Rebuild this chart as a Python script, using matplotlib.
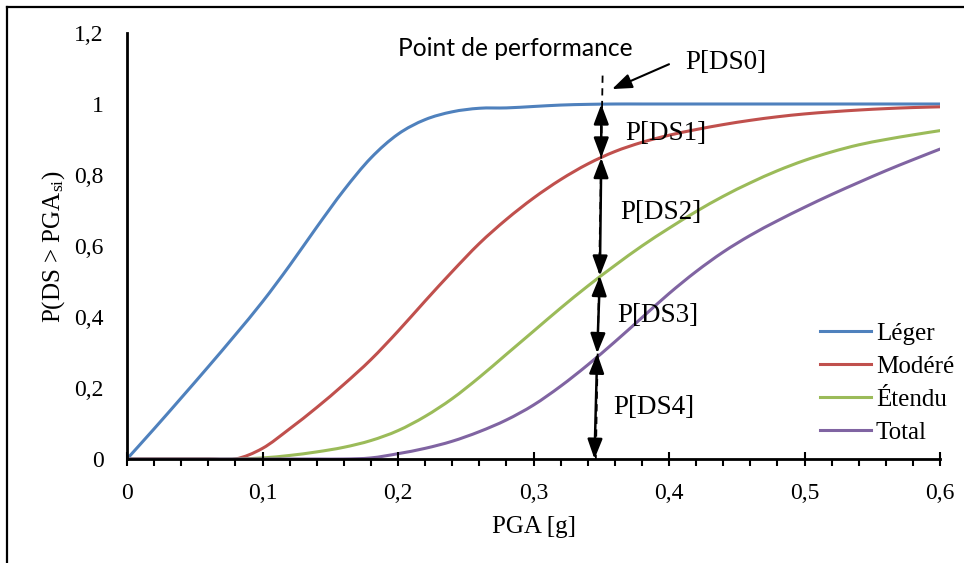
import numpy as np
import matplotlib
matplotlib.use('Agg')
import matplotlib.pyplot as plt
from matplotlib.lines import Line2D
from matplotlib.path import Path
from matplotlib.patches import PathPatch
from matplotlib.ticker import FuncFormatter, MultipleLocator

# PGA [g] - lecture sur la figure
pga = [0.00, 0.02, 0.04, 0.06, 0.08, 0.10, 0.12, 0.14, 0.16, 0.18,
       0.20, 0.22, 0.24, 0.26, 0.28, 0.30, 0.32, 0.34, 0.36, 0.38,
       0.40, 0.42, 0.44, 0.46, 0.48, 0.50, 0.52, 0.54, 0.56, 0.58, 0.60]

leger = [0.000, 0.085, 0.172, 0.260, 0.350, 0.443, 0.545, 0.653, 0.757, 0.848,
         0.915, 0.956, 0.978, 0.988, 0.989, 0.993, 0.997, 0.999, 1.000, 1.000,
         1.000, 1.000, 1.000, 1.000, 1.000, 1.000, 1.000, 1.000, 1.000, 1.000, 1.000]

modere = [0.000, 0.000, 0.000, 0.000, 0.000, 0.030, 0.085, 0.145, 0.210, 0.280,
          0.360, 0.445, 0.528, 0.607, 0.675, 0.735, 0.787, 0.831, 0.866, 0.892,
          0.912, 0.928, 0.942, 0.954, 0.964, 0.972, 0.978, 0.983, 0.987, 0.990, 0.992]

etendu = [0.000, 0.000, 0.000, 0.000, 0.000, 0.003, 0.010, 0.020, 0.033, 0.052,
          0.080, 0.120, 0.170, 0.230, 0.295, 0.360, 0.425, 0.487, 0.545, 0.600,
          0.650, 0.697, 0.740, 0.778, 0.812, 0.841, 0.865, 0.885, 0.900, 0.913, 0.925]

total = [0.000, 0.000, 0.000, 0.000, 0.000, 0.000, 0.000, 0.000, 0.000, 0.003,
         0.015, 0.030, 0.050, 0.077, 0.110, 0.152, 0.205, 0.265, 0.330, 0.398,
         0.466, 0.528, 0.583, 0.630, 0.671, 0.709, 0.745, 0.779, 0.812, 0.843, 0.873]

labels = ['Léger', 'Modéré', 'Étendu', 'Total']
colors = ['#4F81BD', '#C0504D', '#9BBB59', '#8064A2']
pga_perf = 0.35

plt.rcParams['font.family'] = 'serif'
plt.rcParams['font.serif'] = ['Liberation Serif', 'DejaVu Serif']
plt.rcParams['mathtext.fontset'] = 'stix'


def courbe_lissee(x, y):
    # ligne lissée façon Excel : Bézier cubiques passant par les points
    x = np.asarray(x, float)
    y = np.asarray(y, float)
    pts = np.column_stack([x, y])
    ext = np.vstack([pts[0], pts, pts[-1]])
    verts = [pts[0]]
    codes = [Path.MOVETO]
    for i in range(len(pts) - 1):
        p0, p1, p2, p3 = ext[i], ext[i + 1], ext[i + 2], ext[i + 3]
        verts += [p1 + (p2 - p0) / 6, p2 - (p3 - p1) / 6, p2]
        codes += [Path.CURVE4] * 3
    return Path(verts, codes)


fig = plt.figure(figsize=(9.64, 5.63), dpi=100)
ax = fig.add_axes([127/964, 1 - 459/563, 813/964, 426/563])

handles = []
for serie, lab, col in zip([leger, modere, etendu, total], labels, colors):
    ax.add_patch(PathPatch(courbe_lissee(pga, serie), fill=False, edgecolor=col,
                           lw=2.2, capstyle='round', joinstyle='round'))
    handles.append(Line2D([], [], color=col, lw=2.2, label=lab))

ax.set_xlim(0, 0.6)
ax.set_ylim(0, 1.2)


def virgule(v, pos):
    s = ('%.1f' % v)
    if s.endswith('.0'):
        s = s[:-2]
    return s.replace('.', ',')


ax.xaxis.set_major_locator(MultipleLocator(0.1))
ax.xaxis.set_minor_locator(MultipleLocator(0.02))
ax.yaxis.set_major_locator(MultipleLocator(0.2))
ax.xaxis.set_major_formatter(FuncFormatter(virgule))
ax.yaxis.set_major_formatter(FuncFormatter(virgule))
ax.tick_params(axis='x', which='major', direction='inout', length=10, width=1.5,
               labelsize=17, pad=12)
ax.tick_params(axis='x', which='minor', direction='out', length=5, width=1.5)
ax.tick_params(axis='y', which='major', length=0, labelsize=17, pad=17)

for s in ['top', 'right']:
    ax.spines[s].set_visible(False)
for s in ['left', 'bottom']:
    ax.spines[s].set_linewidth(2)

ax.set_xlabel('PGA [g]', fontsize=18, labelpad=9)
ax.set_ylabel(r'P(DS > PGA$_{\mathregular{si}}$)', fontsize=18, labelpad=5)

# point de performance
niv = [float(np.interp(pga_perf, pga, s)) for s in [leger, modere, etendu, total]] + [0.0]
ax.plot([pga_perf + 0.001, pga_perf - 0.004], [1.08, 0.0], color='black', lw=1.3,
        ls=(0, (4, 3)), zorder=4)
dx = [0.0, 0.0, -0.001, -0.003, -0.005]
for i in range(4):
    ax.annotate('', xy=(pga_perf + dx[i + 1], niv[i + 1]), xytext=(pga_perf + dx[i], niv[i]),
                arrowprops=dict(arrowstyle='<|-|>,head_length=1.2,head_width=0.45',
                                color='black', lw=1.8, shrinkA=0, shrinkB=0), zorder=5)

ax.annotate('', xy=(0.358, 1.042), xytext=(0.400, 1.112),
            arrowprops=dict(arrowstyle='-|>,head_length=1.2,head_width=0.45',
                            color='black', lw=1.5, shrinkA=0, shrinkB=0))

ax.text(0.200, 1.155, 'Point de performance', fontsize=17.7, family=['Lato', 'DejaVu Sans'],
        va='center', ha='left')
ax.text(0.412, 1.118, 'P[DS0]', fontsize=19.5, va='center', ha='left')
ax.text(0.3675, 0.918, 'P[DS1]', fontsize=19.5, va='center', ha='left')
ax.text(0.364, 0.693, 'P[DS2]', fontsize=19.5, va='center', ha='left')
ax.text(0.3616, 0.403, 'P[DS3]', fontsize=19.5, va='center', ha='left')
ax.text(0.3587, 0.144, 'P[DS4]', fontsize=19.5, va='center', ha='left')

ax.legend(handles=handles, loc='upper left', bbox_to_anchor=(0.852, 0.32), frameon=False,
          fontsize=18, handlelength=2.05, handletextpad=0.2, labelspacing=0.42,
          borderaxespad=0, borderpad=0)

# cadre de la figure
fig.add_artist(Line2D([7/964, 7/964], [0, 1 - 7/563], color='black', lw=1.6,
                      transform=fig.transFigure))
fig.add_artist(Line2D([7/964, 1], [1 - 7/563, 1 - 7/563], color='black', lw=1.6,
                      transform=fig.transFigure))

fig.savefig('out.png', dpi=100)
